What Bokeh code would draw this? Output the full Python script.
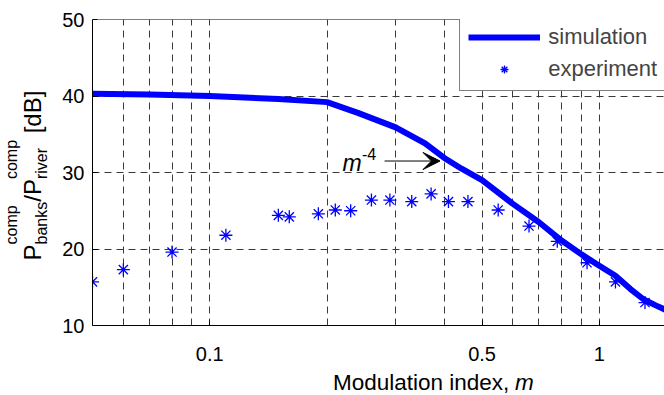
import math
from bokeh.plotting import figure
from bokeh.layouts import row, column
from bokeh.models import (FixedTicker, NumeralTickFormatter, Span, Label, Arrow,
                          VeeHead, Legend, LegendItem, Range1d)
from bokeh.core.properties import value
from bokeh.embed import file_html
from bokeh.resources import INLINE

# ---- data ----
sim_m = [0.05, 0.07, 0.1, 0.15, 0.2, 0.24, 0.3, 0.357, 0.4, 0.443, 0.5, 0.6, 0.7,
         0.8, 0.9, 1.0, 1.1, 1.2, 1.3, 1.4, 1.5]
sim_db = [40.3, 40.2, 40.0, 39.6, 39.2, 37.8, 35.9, 33.8, 31.9, 30.5, 29.0, 25.9,
          23.5, 21.1, 19.3, 17.8, 16.5, 14.8, 13.4, 12.6, 11.9]

exp_m = [0.05, 0.06, 0.08, 0.11, 0.15, 0.16, 0.19, 0.21, 0.23, 0.26, 0.29, 0.33,
         0.37, 0.41, 0.46, 0.55, 0.66, 0.78, 0.93, 1.10, 1.31]
exp_db = [15.7, 17.3, 19.6, 21.8, 24.4, 24.2, 24.6, 25.1, 25.0, 26.4, 26.4, 26.2,
          27.2, 26.2, 26.2, 25.1, 23.0, 21.0, 18.2, 15.7, 13.0]

x_tick_values = [0.1, 0.5, 1]
x_grid_values = [0.06, 0.07, 0.08, 0.09, 0.1, 0.2, 0.3, 0.4, 0.5, 0.6, 0.7, 0.8, 0.9, 1.0]
y_tick_values = [10, 20, 30, 40, 50]

FONT = "Liberation Sans"
BLUE = "#0000ff"

LEFT_W = 56          # width of the y-label strip
MAIN_W = 664 - LEFT_W
MAIN_H = 368
XLAB_H = 395 - MAIN_H

# ---- main plot ----
p = figure(width=MAIN_W, height=MAIN_H, x_axis_type="log",
           x_range=Range1d(0.05, 1.47), y_range=Range1d(10, 50),
           output_backend="svg", toolbar_location=None,
           min_border_left=36, min_border_right=0, min_border_top=19, min_border_bottom=43)
p.outline_line_color = None

for ax in (p.xaxis[0], p.yaxis[0]):
    ax.axis_line_color = "black"
    ax.axis_line_width = 1
    ax.major_tick_in = 5
    ax.major_tick_out = 0
    ax.minor_tick_in = 0
    ax.minor_tick_out = 0
    ax.major_tick_line_color = "black"
    ax.major_label_text_font = FONT
    ax.major_label_text_font_size = "20px"
    ax.major_label_text_color = "black"

p.xaxis.ticker = FixedTicker(ticks=x_tick_values)
p.xaxis.formatter = NumeralTickFormatter(format="0.[0]")
p.xaxis.major_label_standoff = 21
p.yaxis.ticker = FixedTicker(ticks=y_tick_values)
p.yaxis.major_label_standoff = 8

p.xgrid.ticker = FixedTicker(ticks=x_grid_values)
p.ygrid.ticker = FixedTicker(ticks=y_tick_values)
for g in (p.xgrid[0], p.ygrid[0]):
    g.grid_line_color = "#3a3a3a"
    g.grid_line_dash = "7 5"
    g.grid_line_width = 1

p.add_layout(Span(location=50, dimension="width", line_color="black", line_width=1))

r_line = p.line(sim_m, sim_db, line_color=BLUE, line_width=6, line_join="round")
r_pts = p.scatter(exp_m, exp_db, marker="asterisk", size=13, line_color=BLUE, line_width=1.3)

legend = Legend(items=[LegendItem(label="simulation", renderers=[r_line]),
                       LegendItem(label="experiment", renderers=[r_pts])],
                location=(367.3, 233.7), margin=0, padding=8, spacing=6,
                glyph_width=72, glyph_height=20, label_standoff=8,
                label_text_font=FONT, label_text_font_size="22px",
                border_line_color="black", border_line_width=1,
                background_fill_color="white", background_fill_alpha=1.0)
p.add_layout(legend)

# m^-4 annotation
p.add_layout(Arrow(end=VeeHead(size=17, fill_color="black", line_color="black"),
                   x_start=0.281, y_start=31.5, x_end=0.39, y_end=31.5,
                   line_color="black", line_width=1))
p.add_layout(Label(x=250.0, y=162.7, x_units="screen", y_units="screen", text="m",
                   text_font=FONT, text_font_style="italic", text_font_size="23px",
                   text_baseline="alphabetic", text_align="left", text_color="black"))
p.add_layout(Label(x=269.5, y=171.7, x_units="screen", y_units="screen", text="-4",
                   text_font=FONT, text_font_size="16px",
                   text_baseline="alphabetic", text_align="left", text_color="black"))

# ---- x label strip ----
xl = figure(width=MAIN_W, height=XLAB_H, x_range=Range1d(0, MAIN_W), y_range=Range1d(0, XLAB_H),
            output_backend="svg", toolbar_location=None,
            x_axis_location=None, y_axis_location=None,
            min_border=0, min_border_left=0, min_border_right=0, min_border_top=0, min_border_bottom=0)
xl.outline_line_color = None
xl.grid.visible = False
xl.text(x=[443.0], y=[13.5], text=["Modulation index,"], text_font=value(FONT),
        text_font_size="22.5px", text_baseline="alphabetic", text_align="right",
        text_color="black")
xl.text(x=[449.0], y=[13.5], text=["m"], text_font=value(FONT), text_font_size="22.5px",
        text_font_style="italic", text_baseline="alphabetic", text_align="left",
        text_color="black")

# ---- y label strip ----
yl = figure(width=LEFT_W, height=395, x_range=Range1d(0, LEFT_W), y_range=Range1d(0, 395),
            output_backend="svg", toolbar_location=None,
            x_axis_location=None, y_axis_location=None,
            min_border=0, min_border_left=0, min_border_right=0, min_border_top=0, min_border_bottom=0)
yl.outline_line_color = None
yl.grid.visible = False
ylab_main = ["P", "/", "P", "[dB]"]
ylab_main_y = [135.0, 193.7, 200.4, 262.2]
ylab_sup = ["comp", "comp"]
ylab_sup_y = [151.0, 216.4]
ylab_sub = ["banks", "river"]
ylab_sub_y = [151.0, 216.4]
yl.text(x=[31.7] * len(ylab_main), y=ylab_main_y, text=ylab_main, angle=math.pi / 2,
        text_font=value(FONT), text_font_size="24px", text_baseline="alphabetic",
        text_align="left", text_color="black")
yl.text(x=[11.0] * len(ylab_sup), y=ylab_sup_y, text=ylab_sup, angle=math.pi / 2,
        text_font=value(FONT), text_font_size="16px", text_baseline="alphabetic",
        text_align="left", text_color="black")
yl.text(x=[40.5] * len(ylab_sub), y=ylab_sub_y, text=ylab_sub, angle=math.pi / 2,
        text_font=value(FONT), text_font_size="16px", text_baseline="alphabetic",
        text_align="left", text_color="black")

layout = row(yl, column(p, xl, spacing=0), spacing=0)

open("out.html", "w").write(file_html(layout, INLINE))
